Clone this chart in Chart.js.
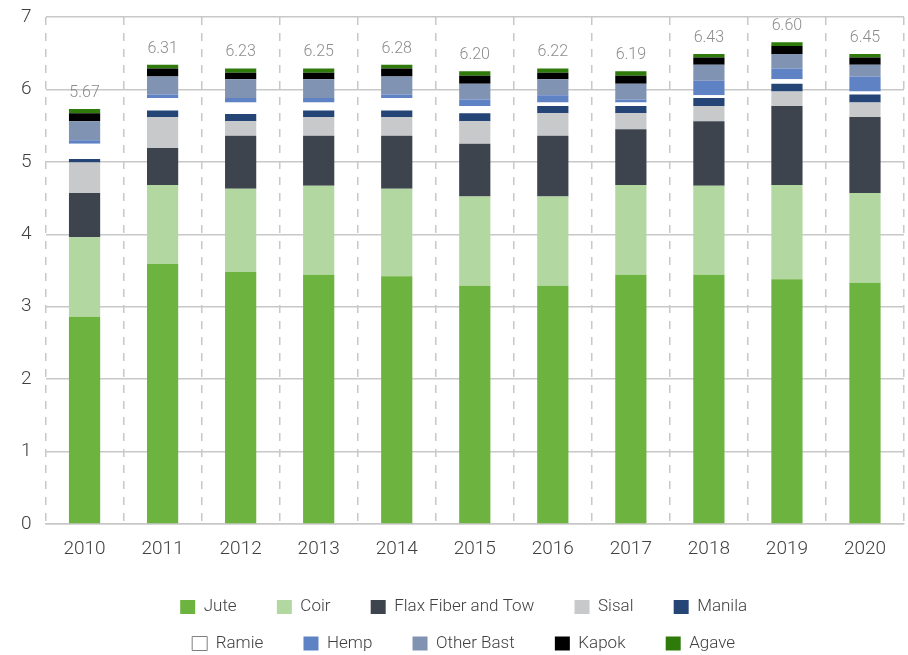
<!DOCTYPE html>
<html>
<head>
<meta charset="utf-8">
<script src="https://cdn.jsdelivr.net/npm/chart.js@4.4.1/dist/chart.umd.min.js"></script>
<style>
  html, body { margin: 0; padding: 0; background: #ffffff; }
  #wrap { width: 908px; height: 655px; }
</style>
</head>
<body>
<div id="wrap"><canvas id="fibreChart" width="908" height="655"></canvas></div>
<script>
// Natural fibre production by fibre type, 2010-2020 (million tonnes)
const years = ['2010', '2011', '2012', '2013', '2014', '2015', '2016', '2017', '2018', '2019', '2020'];

const jute      = [2.86, 3.59, 3.48, 3.44, 3.42, 3.29, 3.29, 3.44, 3.44, 3.38, 3.33];
const coir      = [1.10, 1.09, 1.15, 1.23, 1.21, 1.23, 1.23, 1.24, 1.23, 1.30, 1.24];
const flax      = [0.61, 0.51, 0.73, 0.69, 0.73, 0.73, 0.84, 0.77, 0.89, 1.09, 1.05];
const sisal     = [0.42, 0.43, 0.20, 0.26, 0.26, 0.31, 0.31, 0.22, 0.21, 0.20, 0.20];
const manila    = [0.05, 0.09, 0.10, 0.09, 0.09, 0.11, 0.10, 0.10, 0.11, 0.11, 0.11];
const ramie     = [0.21, 0.17, 0.16, 0.11, 0.17, 0.10, 0.05, 0.05, 0.04, 0.06, 0.04];
const hemp      = [0.05, 0.05, 0.06, 0.06, 0.05, 0.09, 0.10, 0.04, 0.20, 0.15, 0.21];
const otherBast = [0.26, 0.25, 0.26, 0.26, 0.25, 0.22, 0.22, 0.22, 0.22, 0.20, 0.16];
const kapok     = [0.11, 0.11, 0.09, 0.09, 0.11, 0.11, 0.09, 0.11, 0.10, 0.11, 0.10];
const agave     = [0.06, 0.05, 0.06, 0.06, 0.05, 0.06, 0.06, 0.06, 0.05, 0.05, 0.05];

// totals as printed above each bar
const totals = [5.67, 6.31, 6.23, 6.25, 6.28, 6.20, 6.22, 6.19, 6.43, 6.60, 6.45];

const yTicks = [0, 1, 2, 3, 4, 5, 6, 7];

const GRID = '#c8c8c8';
const TEXT = '#404040';
const FONT = "Roboto, 'Liberation Sans', sans-serif";

const LEGEND_WIDTH = 690;   // narrow enough for 5 items per row
const LEGEND_CENTER = 474;
const LEGEND_DROP = 7;
const LEGEND_PAD = '     ';

// puts the total above each stack
const totalLabels = {
    id: 'totalLabels',
    afterDatasetsDraw(chart) {
        const ctx = chart.ctx;
        const yScale = chart.scales.y;
        const meta = chart.getDatasetMeta(0);
        ctx.save();
        ctx.font = '300 16px ' + FONT;
        ctx.fillStyle = '#8c8c8c';
        ctx.textAlign = 'center';
        ctx.textBaseline = 'middle';
        years.forEach((yr, i) => {
            let sum = 0;
            chart.data.datasets.forEach(ds => { sum += ds.data[i]; });
            const x = meta.data[i].x;
            const y = yScale.getPixelForValue(sum);
            ctx.fillText(totals[i].toFixed(2), x, y - 16);
        });
        ctx.restore();
    }
};

// keeps the legend at two rows of five, centred under the plot
const legendRows = {
    id: 'legendRows',
    afterInit(chart) {
        const lg = chart.legend;
        if (!lg) return;
        const upd = lg.update.bind(lg);
        lg.update = (w, h, m) => upd(Math.min(w, LEGEND_WIDTH), h, m);
    },
    afterLayout(chart) {
        const lg = chart.legend;
        if (!lg) return;
        lg.left = LEGEND_CENTER - LEGEND_WIDTH / 2;
        lg.right = lg.left + LEGEND_WIDTH;
        lg.width = LEGEND_WIDTH;
        lg.top += LEGEND_DROP;
        lg.bottom += LEGEND_DROP;
    }
};

function series(label, data, color) {
    return { label: label, data: data, backgroundColor: color, borderWidth: 0 };
}

const ctx = document.getElementById('fibreChart').getContext('2d');
new Chart(ctx, {
    type: 'bar',
    data: {
        labels: years,
        datasets: [
            series('Jute', jute, '#6db33f'),
            series('Coir', coir, '#b3d7a0'),
            series('Flax Fiber and Tow', flax, '#3d444e'),
            series('Sisal', sisal, '#c8c9ca'),
            series('Manila', manila, '#254577'),
            series('Ramie', ramie, '#ffffff'),
            series('Hemp', hemp, '#5f82c4'),
            series('Other Bast', otherBast, '#8193b2'),
            series('Kapok', kapok, '#000000'),
            series('Agave', agave, '#2e7a0a')
        ]
    },
    options: {
        responsive: false,
        animation: false,
        layout: { padding: { top: 17, left: 7, right: 4, bottom: 0 } },
        datasets: { bar: { barPercentage: 0.4, categoryPercentage: 1.0 } },
        scales: {
            x: {
                stacked: true,
                grid: { color: GRID, lineWidth: 1.5, drawTicks: false, offset: true },
                border: { display: true, color: GRID, width: 1.5, dash: [8, 8] },
                ticks: { color: TEXT, padding: 14, font: { family: FONT, size: 19, weight: 300 } },
                afterFit: function(scale) { scale.height = 48; }
            },
            y: {
                stacked: true,
                min: 0,
                max: 7,
                afterBuildTicks: function(scale) { scale.ticks = yTicks.map(v => ({ value: v })); },
                afterFit: function(scale) { scale.paddingTop = 0; },
                grid: { color: GRID, lineWidth: 1.5, drawTicks: false },
                border: { display: false },
                ticks: { color: TEXT, padding: 14, font: { family: FONT, size: 19, weight: 300 } }
            }
        },
        plugins: {
            legend: {
                position: 'bottom',
                labels: {
                    boxWidth: 15,
                    boxHeight: 14,
                    padding: 19.5,
                    color: TEXT,
                    font: { family: FONT, size: 17, weight: 300 },
                    generateLabels: function(chart) {
                        const items = Chart.defaults.plugins.legend.labels.generateLabels(chart);
                        items.forEach(it => {
                            if (it.text === 'Ramie') {
                                it.strokeStyle = '#7f7f7f';
                                it.lineWidth = 1;
                            }
                            it.text = it.text + LEGEND_PAD;
                        });
                        return items;
                    }
                }
            },
            tooltip: { enabled: false }
        }
    },
    plugins: [totalLabels, legendRows]
});
</script>
</body>
</html>
